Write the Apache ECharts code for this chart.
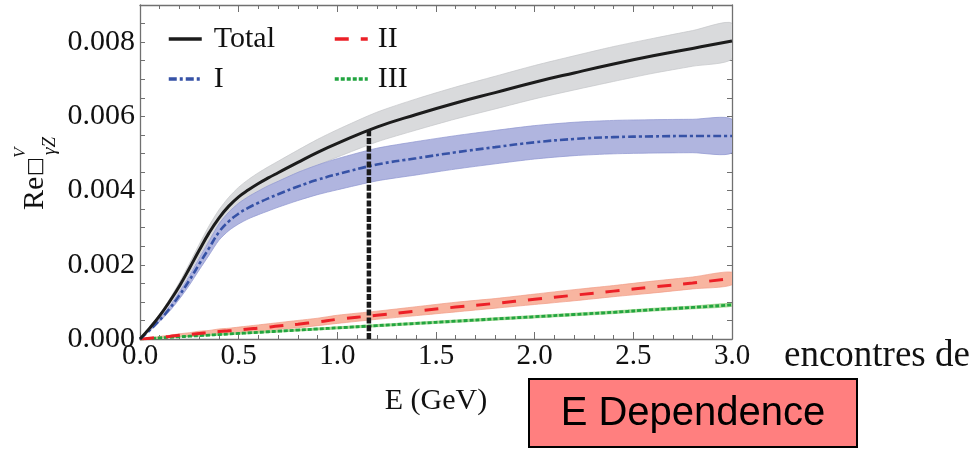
<!DOCTYPE html>
<html>
<head>
<meta charset="utf-8">
<script src="https://cdn.jsdelivr.net/npm/echarts@6/dist/echarts.min.js"></script>
<style>
  html, body { margin: 0; padding: 0; background: #ffffff; }
  #chart { width: 980px; height: 451px; }
</style>
</head>
<body>
<div id="chart"></div>
<script>
// Beam energy grid (GeV)
const energy = [0, 0.05, 0.1, 0.15, 0.2, 0.25, 0.3, 0.35, 0.4, 0.45, 0.5, 0.55, 0.6, 0.65, 0.7,
                0.8, 0.9, 1.0, 1.2, 1.4, 1.6, 1.8, 2.0, 2.2, 2.4, 2.6, 2.8, 3.0];

// Total contribution and its uncertainty
const totalVal = [0, 0.00030, 0.00063, 0.00101, 0.00143, 0.00190, 0.00239, 0.00286, 0.00326, 0.00358,
                  0.00383, 0.00402, 0.00419, 0.00434, 0.00448, 0.00476, 0.00503, 0.00527, 0.00571,
                  0.00605, 0.00636, 0.00664, 0.00692, 0.00717, 0.00741, 0.00763, 0.00783, 0.00803];
const totalErr = [0, 0.00002, 0.00004, 0.00007, 0.00010, 0.00013, 0.00016, 0.00019, 0.00022, 0.00024,
                  0.00026, 0.00028, 0.00029, 0.00030, 0.00031, 0.00033, 0.00035, 0.00037, 0.00040,
                  0.00042, 0.00043, 0.00044, 0.00045, 0.00046, 0.00047, 0.00047, 0.00048, 0.00048];

// Region I
const partI = [0, 0.00024, 0.00051, 0.00082, 0.00118, 0.00158, 0.00202, 0.00245, 0.00288, 0.00317,
               0.00338, 0.00354, 0.00367, 0.00379, 0.00390, 0.00411, 0.00429, 0.00444, 0.00470,
               0.00487, 0.00503, 0.00517, 0.00530, 0.00539, 0.00544, 0.00546, 0.00547, 0.00547];
const partIErr = [0, 0.00002, 0.00004, 0.00007, 0.00010, 0.00013, 0.00016, 0.00019, 0.00022, 0.00025,
                  0.00028, 0.00030, 0.00032, 0.00034, 0.00035, 0.00038, 0.00040, 0.00042, 0.00044,
                  0.00045, 0.00045, 0.00045, 0.00045, 0.00045, 0.00045, 0.00045, 0.00045, 0.00045];

// Region II
const partII = [0, 0.00002, 0.00005, 0.00007, 0.00010, 0.00012, 0.00015, 0.00017, 0.00020, 0.00022,
                0.00024, 0.00027, 0.00029, 0.00032, 0.00035, 0.00040, 0.00046, 0.00053, 0.00064,
                0.00075, 0.00086, 0.00096, 0.00107, 0.00118, 0.00129, 0.00140, 0.00151, 0.00163];
const partIIErr = [0, 0.00001, 0.00002, 0.00003, 0.00004, 0.00005, 0.00006, 0.00006, 0.00007, 0.00007,
                   0.00008, 0.00008, 0.00009, 0.00009, 0.00009, 0.00010, 0.00010, 0.00011, 0.00011,
                   0.00012, 0.00013, 0.00013, 0.00014, 0.00015, 0.00015, 0.00016, 0.00016, 0.00017];

// Region III
const partIII = [0, 0.000015, 0.00003, 0.000045, 0.00006, 0.000075, 0.00009, 0.000105, 0.00012, 0.000135,
                 0.00015, 0.000165, 0.00018, 0.000195, 0.00021, 0.00024, 0.00027, 0.00030, 0.00036,
                 0.00042, 0.00048, 0.00054, 0.00060, 0.00066, 0.00072, 0.00079, 0.00085, 0.00092];
const partIIIErr = [0, 0.000005, 0.000008, 0.00001, 0.000012, 0.000014, 0.000016, 0.000018, 0.00002, 0.00002,
                    0.000022, 0.000023, 0.000024, 0.000024, 0.000025, 0.000026, 0.000027, 0.000028, 0.00003,
                    0.00003, 0.000032, 0.000033, 0.000034, 0.000035, 0.000036, 0.000037, 0.000038, 0.00004];

// Tick labels
const xTickLabels = ['0.0', '0.5', '1.0', '1.5', '2.0', '2.5', '3.0'];
const yTickLabels = ['0.000', '0.002', '0.004', '0.006', '0.008'];
const yLabelStep = 0.002;

// Vertical marker
const cutEnergy = 1.16;
const cutValue = 0.00565;

const serif = 'Liberation Serif';
const frameColor = '#707070';

function pairs(vals) {
  return energy.map((e, i) => [e, vals[i]]);
}

// Uncertainty band drawn as a filled polygon between center-err and center+err
function band(center, err, fill, edge) {
  return {
    type: 'custom', silent: true, clip: true, data: [[0, 0]],
    renderItem: function (params, api) {
      const up = energy.map((e, i) => api.coord([e, center[i] + err[i]]));
      const lo = [];
      for (let i = energy.length - 1; i >= 1; i--) lo.push(api.coord([energy[i], center[i] - err[i]]));
      return { type: 'polygon', shape: { points: up.concat(lo), smooth: 0.25 },
               style: { fill: fill, stroke: edge, lineWidth: 0.7 } };
    }
  };
}

function curve(name, vals, color, width, dash) {
  return { type: 'line', name: name, data: pairs(vals), smooth: 0.45, symbol: 'none',
           lineStyle: { color: color, width: width, type: dash }, itemStyle: { color: color } };
}

function yLabel(v) {
  const k = v / yLabelStep;
  if (Math.abs(k - Math.round(k)) > 1e-6) return '';
  const s = (Math.round(k) * yLabelStep).toFixed(3);
  return yTickLabels.indexOf(s) >= 0 ? s : '';
}

function xLabel(v) {
  const s = v.toFixed(1);
  return xTickLabels.indexOf(s) >= 0 ? s : '';
}

const chart = echarts.init(document.getElementById('chart'));

const xBase = {
  type: 'value', min: 0, max: 3, interval: 0.5, gridIndex: 0,
  axisLine: { show: true, onZero: false, lineStyle: { color: frameColor, width: 1.3 } },
  axisTick: { show: true, inside: true, length: 7, lineStyle: { color: frameColor, width: 1 } },
  minorTick: { show: true, splitNumber: 5, length: 4, lineStyle: { color: frameColor, width: 1 } },
  splitLine: { show: false }, minorSplitLine: { show: false }
};
const yBase = {
  type: 'value', min: 0, max: 0.009, interval: 0.0005, gridIndex: 0,
  axisLine: { show: true, onZero: false, lineStyle: { color: frameColor, width: 1.3 } },
  axisTick: { show: true, inside: true, length: 5, lineStyle: { color: frameColor, width: 1 } },
  splitLine: { show: false }
};

const legendText = { fontFamily: serif, fontSize: 30, color: '#111', lineHeight: 30 };

chart.setOption({
  animation: false,
  backgroundColor: '#ffffff',
  grid: { left: 140, right: 248, top: 5, bottom: 112, containLabel: false },
  xAxis: [
    Object.assign({}, xBase, {
      position: 'bottom',
      axisLabel: { show: true, formatter: xLabel, fontFamily: serif,
                   fontSize: 29, color: '#111', margin: 3 },
      name: 'E (GeV)', nameLocation: 'middle', nameGap: 47,
      nameTextStyle: { fontFamily: serif, fontSize: 30, color: '#111' }
    }),
    Object.assign({}, xBase, { position: 'top', axisLabel: { show: false } })
  ],
  yAxis: [
    Object.assign({}, yBase, {
      position: 'left',
      axisLabel: { show: true, formatter: yLabel, fontFamily: serif,
                   fontSize: 30, color: '#111', margin: 5 }
    }),
    Object.assign({}, yBase, { position: 'right', axisLabel: { show: false } })
  ],
  legend: [
    { data: ['Total', 'I'], orient: 'vertical', left: 162, top: 19, itemWidth: 33, itemHeight: 14,
      itemGap: 10, itemStyle: { opacity: 0, borderWidth: 0 }, lineStyle: { width: 3.5 },
      textStyle: Object.assign({ padding: [0, 0, 0, 7] }, legendText), selectedMode: false },
    { data: ['II', 'III'], orient: 'vertical', left: 328, top: 19, itemWidth: 33, itemHeight: 14,
      itemGap: 10, itemStyle: { opacity: 0, borderWidth: 0 }, lineStyle: { width: 3.5 },
      textStyle: Object.assign({ padding: [0, 0, 0, 5] }, legendText), selectedMode: false }
  ],
  series: [
    band(totalVal, totalErr, '#d9dadc', '#c4c5c8'),
    band(partI, partIErr, '#b0b5df', '#8e95d0'),
    band(partII, partIIErr, '#f8b5a0', '#f19c86'),
    band(partIII, partIIIErr, '#a9dc9a', '#92d181'),
    curve('III', partIII, '#22a540', 2.8, [4, 2]),
    curve('II', partII, '#ec2027', 3, [14, 12]),
    curve('I', partI, '#3652a6', 2.6, [8, 3, 3, 3]),
    curve('Total', totalVal, '#1c1c1c', 3, 'solid'),
    { type: 'line', name: 'cut', data: [[cutEnergy, 0], [cutEnergy, cutValue]], symbol: 'none',
      silent: true, z: 5, lineStyle: { color: '#1a1a1a', width: 4.5, type: [6, 1.8] } }
  ],
  graphic: [
    { // vertical axis title: Re □^V_γZ
      type: 'group', position: [45, 210], rotation: Math.PI / 2,
      children: [
        { type: 'text', x: 0, y: -10, style: { text: 'Re', font: '30px "Liberation Serif"',
          fill: '#111', textVerticalAlign: 'middle', textAlign: 'left' } },
        { type: 'text', x: 34, y: -9, style: { text: '□', font: '20px "DejaVu Sans"',
          fill: '#111', textVerticalAlign: 'middle', textAlign: 'left' } },
        { type: 'text', x: 52, y: -24, style: { text: 'V', font: 'italic 17px "Liberation Serif"',
          fill: '#111', textVerticalAlign: 'middle', textAlign: 'left' } },
        { type: 'text', x: 55, y: 5, style: { text: 'γZ', font: 'italic 19px "Liberation Serif"',
          fill: '#111', textVerticalAlign: 'middle', textAlign: 'left' } }
      ]
    },
    { type: 'text', x: 784, y: 356, style: { text: 'encontres de', font: '37px "Liberation Serif"',
      fill: '#111', textVerticalAlign: 'middle', textAlign: 'left' } },
    { type: 'rect', shape: { x: 529, y: 379, width: 328, height: 68 },
      style: { fill: '#ff7f7f', stroke: '#000000', lineWidth: 2 } },
    { type: 'text', x: 693, y: 414, style: { text: 'E Dependence', font: '40px "Liberation Sans"',
      fill: '#000000', textVerticalAlign: 'middle', textAlign: 'center' } }
  ]
});
</script>
</body>
</html>
